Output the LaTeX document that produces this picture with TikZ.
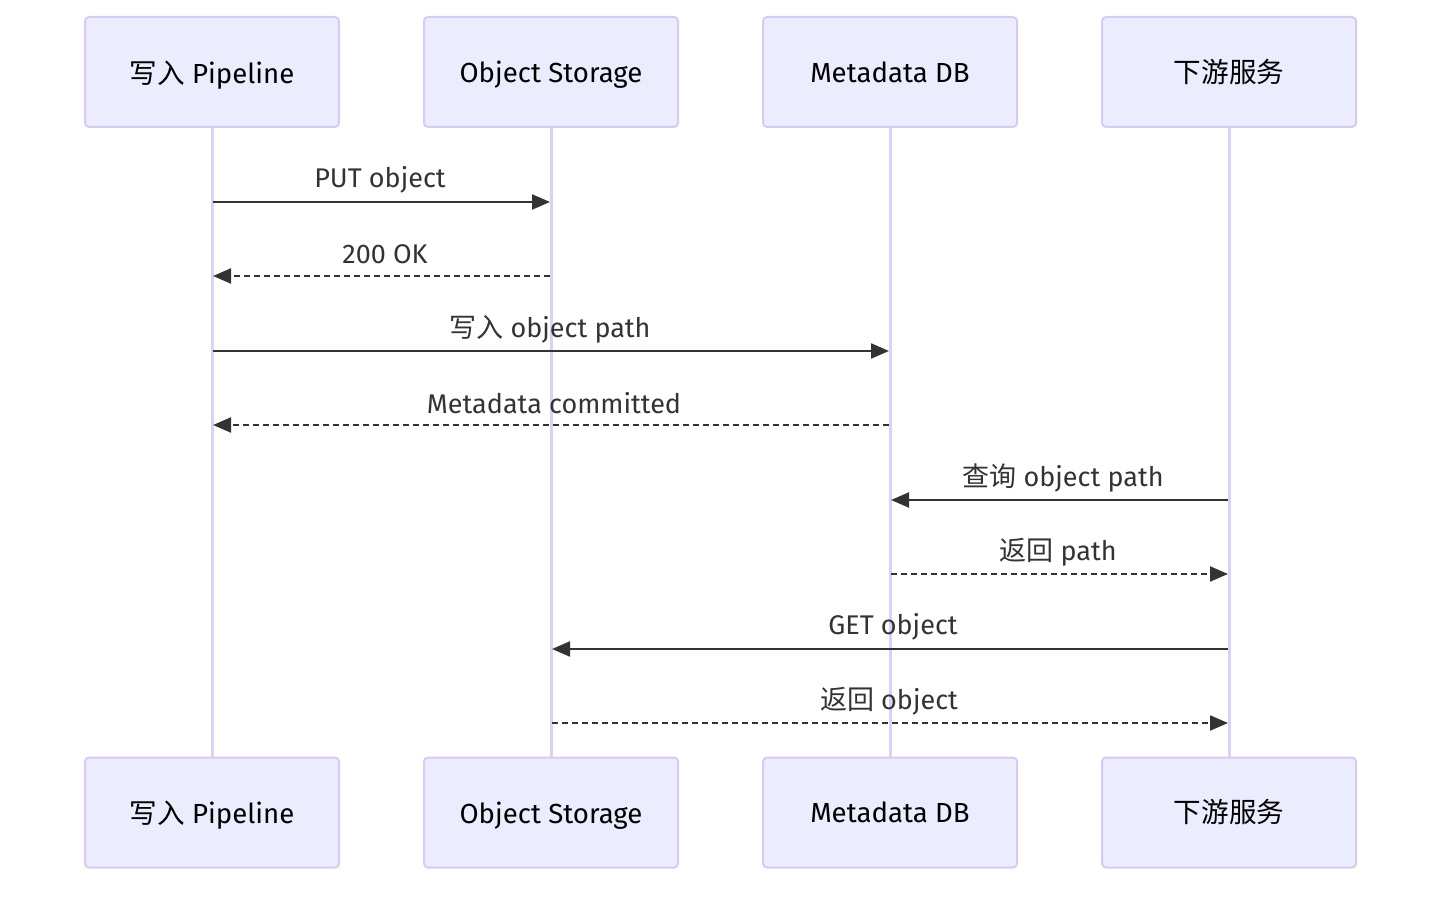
\documentclass[tikz,border=0pt]{standalone}
\usepackage{fontspec}
\setmainfont{Fira Sans}
\newfontfamily\cjk{Noto Sans CJK SC}
\usetikzlibrary{arrows.meta}
\definecolor{boxfill}{HTML}{ECECFF}
\definecolor{boxline}{HTML}{D6CCF2}
\definecolor{lifeline}{HTML}{DCD0F5}
\definecolor{msg}{HTML}{333333}
\tikzset{
  actor/.style={draw=boxline, fill=boxfill, line width=1pt, rounded corners=2pt,
    minimum width=127pt, minimum height=55pt, inner sep=0pt, font=\fontsize{13.8}{16}\selectfont, text=black},
  life/.style={draw=lifeline, line width=1.5pt},
  msgsolid/.style={draw=msg, line width=1.1pt, -{Triangle[length=9pt,width=7.5pt]}},
  msgdash/.style={draw=msg, line width=1.1pt, dash pattern=on 2.8pt off 2.2pt, -{Triangle[length=9pt,width=7.5pt]}},
  lbl/.style={font=\fontsize{13.5}{16}\selectfont, text=msg, inner sep=0pt},
  atext/.style={font=\fontsize{13.8}{16}\selectfont, text=black, inner sep=0pt}
}
\begin{document}
\begin{tikzpicture}[x=0.5pt,y=-0.5pt]
\useasboundingbox (0,0) rectangle (1456,897);
% lifelines
\foreach \n/\x in {a/212,b/551,c/890,d/1229}{
  \coordinate (\n t) at (\x,127);
  \coordinate (\n b) at (\x,758);
}
\draw[life] (at) -- (ab);
\draw[life] (bt) -- (bb);
\draw[life] (ct) -- (cb);
\draw[life] (dt) -- (db);
% actors
\node[actor] (A1) at (212,72) {};
\node[actor] (B1) at (551,72) {};
\node[actor] (C1) at (890,72) {};
\node[actor] (D1) at (1229,72) {};
\node[actor] (A2) at (212,812.5) {};
\node[actor] (B2) at (551,812.5) {};
\node[actor] (C2) at (890,812.5) {};
\node[actor] (D2) at (1229,812.5) {};
\node[atext] (A1t) at ([yshift=-1.5pt]A1.center) {{\cjk 写入} Pipeline};
\node[atext] (B1t) at ([yshift=-1.5pt]B1.center) {Object Storage};
\node[atext] (C1t) at (C1.center) {Metadata DB};
\node[atext] (D1t) at (D1.center) {\cjk 下游服务};
\node[atext] (A2t) at ([yshift=-1.5pt]A2.center) {{\cjk 写入} Pipeline};
\node[atext] (B2t) at ([yshift=-1.5pt]B2.center) {Object Storage};
\node[atext] (C2t) at (C2.center) {Metadata DB};
\node[atext] (D2t) at (D2.center) {\cjk 下游服务};
% message endpoints
\coordinate (m1s) at (213,202); \coordinate (m1e) at (550,202);
\coordinate (m2s) at (550,276); \coordinate (m2e) at (213,276);
\coordinate (m3s) at (213,351); \coordinate (m3e) at (889,351);
\coordinate (m4s) at (889,425); \coordinate (m4e) at (213,425);
\coordinate (m5s) at (1228,500); \coordinate (m5e) at (891,500);
\coordinate (m6s) at (891,574); \coordinate (m6e) at (1228,574);
\coordinate (m7s) at (1228,649); \coordinate (m7e) at (552,649);
\coordinate (m8s) at (552,723); \coordinate (m8e) at (1228,723);
\draw[msgsolid] (m1s) -- (m1e);
\draw[msgdash] (m2s) -- (m2e);
\draw[msgsolid] (m3s) -- (m3e);
\draw[msgdash] (m4s) -- (m4e);
\draw[msgsolid] (m5s) -- (m5e);
\draw[msgdash] (m6s) -- (m6e);
\draw[msgsolid] (m7s) -- (m7e);
\draw[msgdash] (m8s) -- (m8e);
% labels
\node[lbl] (l1) at (380,180) {PUT object};
\node[lbl] (l2) at (385,254) {200 OK};
\node[lbl] (l3) at (550,329) {{\cjk 写入} object path};
\node[lbl] (l4) at (554,403) {Metadata committed};
\node[lbl] (l5) at (1063,478) {{\cjk 查询} object path};
\node[lbl] (l6) at (1058,552) {{\cjk 返回} path};
\node[lbl] (l7) at (893,627) {GET object};
\node[lbl] (l8) at (889,701) {{\cjk 返回} object};
\end{tikzpicture}
\end{document}
